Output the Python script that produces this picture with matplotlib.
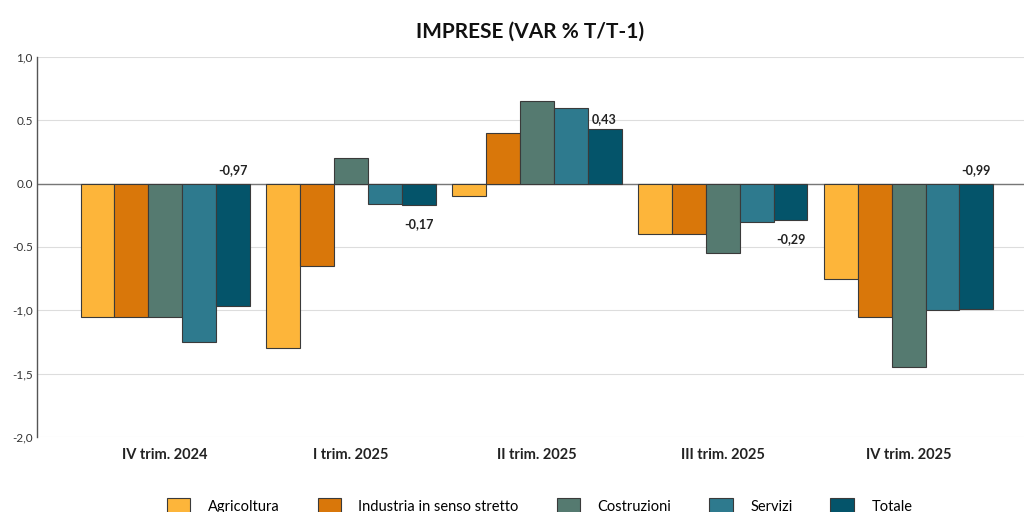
import numpy as np
import matplotlib
matplotlib.use("Agg")
import matplotlib.pyplot as plt
from matplotlib.patches import Patch

plt.rcParams["font.family"] = ["Lato", "DejaVu Sans"]

periods = ["IV trim. 2024", "I trim. 2025", "II trim. 2025", "III trim. 2025", "IV trim. 2025"]
series = ["Agricoltura", "Industria in senso stretto", "Costruzioni", "Servizi", "Totale"]
agricoltura = [-1.05, -1.30, -0.10, -0.40, -0.75]
industria = [-1.05, -0.65, 0.40, -0.40, -1.05]
costruzioni = [-1.05, 0.20, 0.65, -0.55, -1.45]
servizi = [-1.25, -0.16, 0.60, -0.30, -1.00]
totale = [-0.97, -0.17, 0.43, -0.29, -0.99]
yticks = [1.0, 0.5, 0.0, -0.5, -1.0, -1.5, -2.0]
ytick_labels = ["1,0", "0.5", "0.0", "-0.5", "-1,0", "-1,5", "-2,0"]

colors = ["#FDB53A", "#D9770A", "#557A70", "#2E7A8E", "#04546A"]

fig = plt.figure(figsize=(10.24, 5.12), dpi=100)
ax = fig.add_axes([0.036, 0.1465, 0.964, 0.7425])

x = np.arange(len(periods))
w = 0.182
values = [agricoltura, industria, costruzioni, servizi, totale]
for i, (vals, col) in enumerate(zip(values, colors)):
    ax.bar(x + (i - 2) * w, vals, width=w, color=col, edgecolor="#3a3a3a",
           linewidth=0.8, zorder=3)

# data labels on the total
for xi, v in zip(x + 2 * w, totale):
    label = f"{v:.2f}".replace(".", ",")
    if v >= 0:
        ax.text(xi, v + 0.03, label, ha="center", va="bottom", fontsize=9,
                fontweight="bold", color="#222222", zorder=4)
    elif v < -0.5:
        ax.text(xi, 0.06, label, ha="center", va="bottom", fontsize=9,
                fontweight="bold", color="#222222", zorder=4)
    else:
        ax.text(xi, v - 0.1, label, ha="center", va="top", fontsize=9,
                fontweight="bold", color="#222222", zorder=4)

ax.set_ylim(-2.0, 1.0)
ax.set_xlim(-0.69, 4.62)
ax.set_yticks(yticks)
ax.set_yticklabels(ytick_labels, fontsize=8.5, color="#333333")
ax.set_xticks(x)
ax.set_xticklabels(periods, fontsize=10.5, fontweight="bold", color="#222222")
ax.tick_params(axis="x", length=0, pad=8)
ax.tick_params(axis="y", length=0, pad=3)
ax.grid(axis="y", color="#dddddd", linewidth=0.8, zorder=0)
ax.axhline(0, color="#777777", linewidth=1.0, zorder=2)
for s in ["top", "right", "bottom"]:
    ax.spines[s].set_visible(False)
ax.spines["left"].set_color("#555555")
ax.spines["left"].set_linewidth(1.0)

ax.set_title("IMPRESE (VAR % T/T-1)", fontsize=15, fontweight="bold", pad=14, color="#111111")

handles = [Patch(facecolor=c, edgecolor="#3a3a3a", linewidth=0.8) for c in colors]
fig.legend(handles, series, loc="center", bbox_to_anchor=(0.527, 0.012), ncol=5,
           frameon=False, fontsize=10.5, handlelength=1.6, handleheight=1.3,
           columnspacing=2.6, handletextpad=1.2)

fig.savefig("out.png", dpi=100)
